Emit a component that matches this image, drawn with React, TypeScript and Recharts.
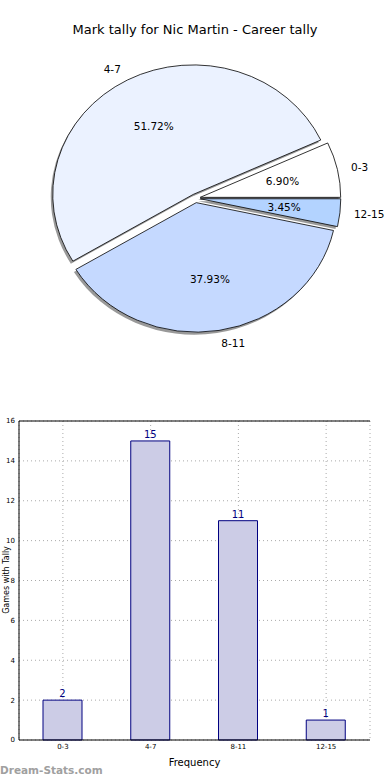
import React from 'react';
import { PieChart, Pie, BarChart, Bar, XAxis, YAxis, CartesianGrid, LabelList, ReferenceLine } from 'recharts';

const categories = ['0-3', '4-7', '8-11', '12-15'];
const counts = [2, 15, 11, 1];
const pieColors = ['#ffffff', '#ebf2ff', '#c5d9ff', '#b3d3ff'];
const yTicks = [0, 2, 4, 6, 8, 10, 12, 14, 16];

const pieData = categories.map((c, i) => ({ name: c, value: counts[i], color: pieColors[i] }));
const barData = categories.map((c, i) => ({ cat: c, value: counts[i] }));

const FONT = '"DejaVu Sans", Verdana, sans-serif';
const RX_SCALE = 140.5 / 129.5;
const EXPLODE_X = 4.8;
const EXPLODE_Y = 4.4;

const rad = Math.PI / 180;

function geom(p: any) {
  const sa = p.startAngle as number;
  const ea = p.endAngle as number;
  const mid = (sa + ea) / 2;
  const ry = p.outerRadius as number;
  const rx = ry * RX_SCALE;
  const ox = p.cx + EXPLODE_X * Math.cos(mid * rad);
  const oy = p.cy - EXPLODE_Y * Math.sin(mid * rad);
  return { sa, ea, mid, rx, ry, ox, oy };
}

function slicePath(ox: number, oy: number, rx: number, ry: number, sa: number, ea: number) {
  const x1 = ox + rx * Math.cos(sa * rad);
  const y1 = oy - ry * Math.sin(sa * rad);
  const x2 = ox + rx * Math.cos(ea * rad);
  const y2 = oy - ry * Math.sin(ea * rad);
  const large = ea - sa > 180 ? 1 : 0;
  return `M${ox},${oy} L${x1},${y1} A${rx},${ry} 0 ${large} 0 ${x2},${y2} Z`;
}

const renderShadow = (p: any) => {
  const g = geom(p);
  return (
    <path
      key={`sh-${p.index}`}
      d={slicePath(g.ox - 2, g.oy + 2.5, g.rx, g.ry, g.sa, g.ea)}
      fill="#6e6e6e"
      fillOpacity={0.7}
      stroke="none"
    />
  );
};

const renderSlice = (p: any) => {
  const g = geom(p);
  const c = Math.cos(g.mid * rad);
  const s = Math.sin(g.mid * rad);
  const px = g.ox + 0.6 * g.rx * c;
  const py = g.oy - 0.6 * g.ry * s;
  const lx = g.ox + 1.1 * g.rx * c;
  const ly = g.oy - 1.1 * g.ry * s;
  const pct = (p.percent * 100).toFixed(2) + '%';
  return (
    <g key={`sl-${p.index}`}>
      <path d={slicePath(g.ox, g.oy, g.rx, g.ry, g.sa, g.ea)} fill={p.payload.color} stroke="#000" strokeWidth={0.8} />
      <text x={px} y={py} textAnchor="middle" dominantBaseline="central" fontSize={10.5} fontFamily={FONT} fill="#000">
        {pct}
      </text>
      <text x={lx} y={ly} textAnchor={c >= 0 ? 'start' : 'end'} dominantBaseline="central" fontSize={10.5} fontFamily={FONT} fill="#000">
        {p.name}
      </text>
    </g>
  );
};

export default function App() {
  return (
    <div style={{ position: 'absolute', left: 0, top: 0, width: 390, height: 780, background: '#fff', fontFamily: FONT }}>
      <div style={{ position: 'absolute', left: 0, top: 22, width: 390, textAlign: 'center', fontSize: 13, color: '#000', fontFamily: FONT }}>
        Mark tally for Nic Martin - Career tally
      </div>
      <div style={{ position: 'absolute', left: 0, top: 0 }}>
        <PieChart width={390} height={390} margin={{ top: 0, right: 0, bottom: 0, left: 0 }}>
          <Pie
            data={pieData}
            dataKey="value"
            nameKey="name"
            cx={195.5}
            cy={198.3}
            innerRadius={0}
            outerRadius={129.5}
            startAngle={0}
            endAngle={360}
            fill="transparent"
            stroke="none"
            isAnimationActive={false}
            labelLine={false}
            label={renderShadow}
          />
          <Pie
            data={pieData}
            dataKey="value"
            nameKey="name"
            cx={195.5}
            cy={198.3}
            innerRadius={0}
            outerRadius={129.5}
            startAngle={0}
            endAngle={360}
            fill="transparent"
            stroke="none"
            isAnimationActive={false}
            labelLine={false}
            label={renderSlice}
          />
        </PieChart>
      </div>
      <div style={{ position: 'absolute', left: 0, top: 400 }}>
        <BarChart width={390} height={380} data={barData} margin={{ top: 21, right: 20, left: 0, bottom: 0 }} barCategoryGap={0}>
          <XAxis
            dataKey="cat"
            height={40}
            tickLine={false}
            tickSize={2}
            tickMargin={2}
            tick={{ fontSize: 7, fill: '#000', fontFamily: FONT }}
            axisLine={{ stroke: '#000', strokeWidth: 1 }}
            label={{ value: 'Frequency', position: 'insideBottom', offset: 14, fontSize: 10, fill: '#000', fontFamily: FONT }}
          />
          <YAxis
            width={19}
            domain={[0, 16]}
            ticks={yTicks}
            tickLine={false}
            tickSize={2}
            tickMargin={2}
            tick={{ fontSize: 7, fill: '#000', fontFamily: FONT }}
            axisLine={{ stroke: '#000', strokeWidth: 1 }}
          />
          <YAxis
            yAxisId="r"
            orientation="right"
            width={0}
            domain={[0, 16]}
            tick={false}
            tickLine={false}
            axisLine={{ stroke: '#000', strokeWidth: 1 }}
          />
          <Bar dataKey="value" barSize={39} fill="#ccccE6" stroke="#000080" strokeWidth={1} isAnimationActive={false}>
            <LabelList dataKey="value" position="top" offset={3} fill="#000080" fontSize={10} fontFamily={FONT} />
          </Bar>
          <CartesianGrid strokeDasharray="1 3" stroke="#aaaaaa" strokeWidth={1} />
          <ReferenceLine y={16} stroke="#000" strokeWidth={1} />
        </BarChart>
      </div>
      <div
        style={{
          position: 'absolute',
          left: 6,
          top: 580,
          transform: 'translate(-50%, -50%) rotate(-90deg)',
          fontSize: 8,
          whiteSpace: 'nowrap',
          color: '#000',
          fontFamily: FONT,
        }}
      >
        Games with Tally
      </div>
      <div style={{ position: 'absolute', left: 0, top: 764, fontSize: 10.5, fontWeight: 'bold', color: '#a0a0a0', fontFamily: FONT }}>
        Dream-Stats.com
      </div>
    </div>
  );
}
